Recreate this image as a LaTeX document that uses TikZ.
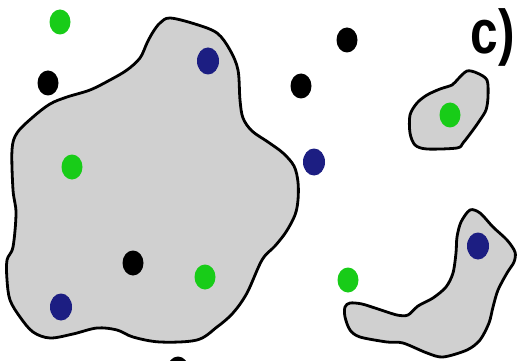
\documentclass[tikz,border=0pt]{standalone}
\usepackage{fontspec}
\setmainfont{Liberation Sans}
\usetikzlibrary{shapes.geometric}
\definecolor{dgreen}{RGB}{24,204,24}
\definecolor{dblue}{RGB}{28,30,130}
\definecolor{blobgray}{RGB}{208,208,208}
\tikzset{
  blob/.style={fill=blobgray,draw=black,line width=2.8pt,line join=round},
  dotbase/.style={ellipse,inner sep=0pt,minimum width=21pt,minimum height=25pt},
  gdot/.style={dotbase,fill=dgreen},
  bdot/.style={dotbase,fill=dblue,minimum width=22pt,minimum height=27pt},
  kdot/.style={dotbase,fill=black},
}
\begin{document}
\begin{tikzpicture}[x=1pt,y=-1pt]
\useasboundingbox (0,0) rectangle (520,361);
\clip (0,0) rectangle (520,361);
% main blob
\draw[blob] plot[smooth cycle,tension=0.55] coordinates {
 (170,18) (195,24) (217,33) (230,50) (238,70) (240,100) (243,118) (252,131)
 (268,142) (283,153) (294,166) (298,182) (298,200) (295,215) (286,232)
 (275,246) (262,260) (247,293) (233,313) (217,327) (197,340) (160,342)
 (133,337) (117,330) (97,328) (73,334) (50,338) (33,332) (20,317) (10,300)
 (7,280) (7,260) (13,247) (16,213) (13,190) (12,150) (17,133) (33,117)
 (50,104) (67,97) (90,90) (110,80) (127,70) (140,58) (147,43) (153,32) (160,23)};
% small blob top right
\draw[blob] plot[smooth cycle,tension=0.5] coordinates {
 (467,71) (477,73) (487,80) (488,97) (486,110) (480,120) (473,130) (463,143)
 (457,148) (427,149) (415,145) (410,133) (410,115) (417,103) (427,95)
 (440,89) (452,85) (458,79)};
% bottom right blob
\draw[blob] plot[smooth cycle,tension=0.5] coordinates {
 (470,210) (480,213) (493,227) (507,240) (515,252) (514,262) (507,273)
 (498,290) (493,307) (489,323) (480,340) (467,350) (443,357) (427,353)
 (403,343) (387,342) (360,337) (350,330) (345,317) (345,307) (350,303)
 (362,304) (378,309) (397,315) (408,315) (418,306) (433,298) (446,287)
 (453,273) (456,253) (457,237) (461,222)};
% dots
\node[gdot] (g1) at (60,22) {};
\node[kdot] (k1) at (48,83) {};
\node[bdot] (b1) at (208,61) {};
\node[gdot] (g2) at (72,167) {};
\node[kdot] (k2) at (347,40) {};
\node[kdot] (k3) at (301,86) {};
\node[bdot] (b2) at (314,162) {};
\node[gdot] (g3) at (450,115) {};
\node[kdot] (k4) at (133,263) {};
\node[gdot] (g4) at (205,277) {};
\node[bdot] (b3) at (61,307) {};
\node[gdot] (g5) at (348,280) {};
\node[bdot] (b4) at (478,246) {};
\node[kdot] (k5) at (178,369) {};
% label
\node[font=\bfseries\fontsize{62}{66}\selectfont,inner sep=0pt,xscale=0.8] (lbl) at (493,37) {c)};
\end{tikzpicture}
\end{document}
